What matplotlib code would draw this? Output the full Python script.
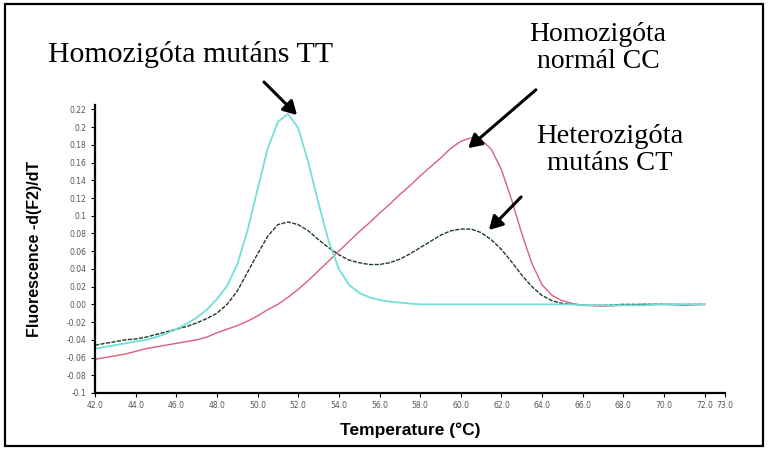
import matplotlib
matplotlib.use("Agg")
import matplotlib.pyplot as plt
from matplotlib.patches import Rectangle, FancyArrowPatch

# ---- data ----
temps = [42, 42.5, 43, 43.5, 44, 44.5, 45, 45.5, 46, 46.5, 47, 47.5, 48, 48.5,
         49, 49.5, 50, 50.5, 51, 51.5, 52, 52.5, 53, 53.5, 54, 54.5, 55, 55.5,
         56, 56.5, 57, 57.5, 58, 58.5, 59, 59.5, 60, 60.5, 61, 61.5, 62, 62.5,
         63, 63.5, 64, 64.5, 65, 65.5, 66, 67, 68, 69, 70, 71, 72]

tt_mutant = [-0.050, -0.048, -0.046, -0.044, -0.042, -0.040, -0.037, -0.033, -0.028, -0.022,
             -0.015, -0.006, 0.006, 0.021, 0.045, 0.083, 0.130, 0.176, 0.206, 0.215,
             0.199, 0.160, 0.114, 0.071, 0.040, 0.022, 0.013, 0.008, 0.005, 0.003,
             0.002, 0.001, 0.000, 0.000, 0.000, 0.000, 0.000, 0.000, 0.000, 0.000,
             0.000, 0.000, 0.000, 0.000, 0.000, 0.000, 0.000, 0.000, -0.001, -0.001,
             -0.001, -0.001, 0.000, 0.000, 0.000]

ct_hetero = [-0.046, -0.044, -0.042, -0.040, -0.039, -0.037, -0.034, -0.031, -0.028, -0.025,
             -0.021, -0.016, -0.010, 0.000, 0.015, 0.036, 0.057, 0.077, 0.090, 0.093,
             0.090, 0.083, 0.073, 0.064, 0.056, 0.050, 0.047, 0.045, 0.045, 0.047,
             0.051, 0.057, 0.064, 0.071, 0.078, 0.083, 0.085, 0.085, 0.081, 0.073,
             0.062, 0.048, 0.033, 0.020, 0.010, 0.004, 0.001, 0.000, -0.001, -0.001,
             0.000, 0.000, 0.000, 0.000, 0.000]

cc_normal = [-0.062, -0.060, -0.058, -0.056, -0.053, -0.050, -0.048, -0.046, -0.044, -0.042,
             -0.040, -0.037, -0.032, -0.028, -0.024, -0.019, -0.013, -0.006, 0.000, 0.008,
             0.017, 0.027, 0.038, 0.049, 0.060, 0.071, 0.082, 0.092, 0.103, 0.113,
             0.124, 0.134, 0.145, 0.155, 0.165, 0.176, 0.184, 0.188, 0.186, 0.175,
             0.152, 0.118, 0.080, 0.046, 0.022, 0.010, 0.004, 0.001, -0.001, -0.002,
             -0.001, 0.000, 0.000, -0.001, 0.000]

xtick_vals = [42, 44, 46, 48, 50, 52, 54, 56, 58, 60, 62, 64, 66, 68, 70, 72, 73]
xtick_labels = ["42.0", "44.0", "46.0", "48.0", "50.0", "52.0", "54.0", "56.0", "58.0",
                "60.0", "62.0", "64.0", "66.0", "68.0", "70.0", "72.0", "73.0"]
ytick_vals = [0.22, 0.20, 0.18, 0.16, 0.14, 0.12, 0.10, 0.08, 0.06, 0.04, 0.02, 0.00,
              -0.02, -0.04, -0.06, -0.08, -0.10]
ytick_labels = ["0.22", "0.2", "0.18", "0.16", "0.14", "0.12", "0.1", "0.08", "0.06",
                "0.04", "0.02", "0.00", "-0.02", "-0.04", "-0.06", "-0.08", "-0.1"]

# ---- figure ----
fig = plt.figure(figsize=(7.68, 4.5), dpi=100)
fig.patch.set_facecolor("white")
fig.patches.append(Rectangle((0.006, 0.009), 0.988, 0.982, transform=fig.transFigure,
                             fill=False, edgecolor="black", linewidth=1.6))

ax = fig.add_axes([95 / 768, 57 / 450, 630 / 768, 288 / 450])
ax.plot(temps, cc_normal, color="#d9607a", lw=1.0)
ax.plot(temps, ct_hetero, color="#1f3d26", lw=1.0, ls=(0, (3, 1)))
ax.plot(temps, tt_mutant, color="#70e0d8", lw=1.3)

ax.set_xlim(42, 73)
ax.set_ylim(-0.10, 0.225)
for s in ["top", "right"]:
    ax.spines[s].set_visible(False)
for s in ["left", "bottom"]:
    ax.spines[s].set_linewidth(1.6)
ax.set_xticks(xtick_vals)
ax.set_xticklabels(xtick_labels, fontsize=5.5, color="#555555")
ax.set_yticks(ytick_vals)
ax.set_yticklabels(ytick_labels, fontsize=5.5, color="#555555")
ax.tick_params(axis="both", length=3, width=0.8, pad=3)

ax.set_xlabel("Temperature (°C)", fontsize=12.5, fontweight="bold",
              family=["Liberation Sans", "DejaVu Sans"], labelpad=9)
ax.set_ylabel("Fluorescence -d(F2)/dT", fontsize=11.5, fontweight="bold",
              family=["Liberation Sans", "DejaVu Sans"], labelpad=18)

serif = ["Liberation Serif", "DejaVu Serif"]
fig.text(48 / 768, 1 - 62 / 450, "Homozigóta mutáns TT", fontsize=21.5, family=serif)
fig.text(598 / 768, 1 - 22 / 450, "Homozigóta\nnormál CC", fontsize=20, family=serif,
         ha="center", va="top", linespacing=1.1)
fig.text(610 / 768, 1 - 124 / 450, "Heterozigóta\nmutáns CT", fontsize=20.5, family=serif,
         ha="center", va="top", linespacing=1.1)

arrows = [((262, 80), (299, 117)), ((538, 88), (466, 150)), ((523, 195), (487, 232))]
for (x0, y0), (x1, y1) in arrows:
    fig.add_artist(FancyArrowPatch(
        (x0 / 768, 1 - y0 / 450), (x1 / 768, 1 - y1 / 450), transform=fig.transFigure,
        arrowstyle="-|>,head_length=8,head_width=4.5", color="black", lw=2.2))

fig.savefig("out.png", dpi=100)
